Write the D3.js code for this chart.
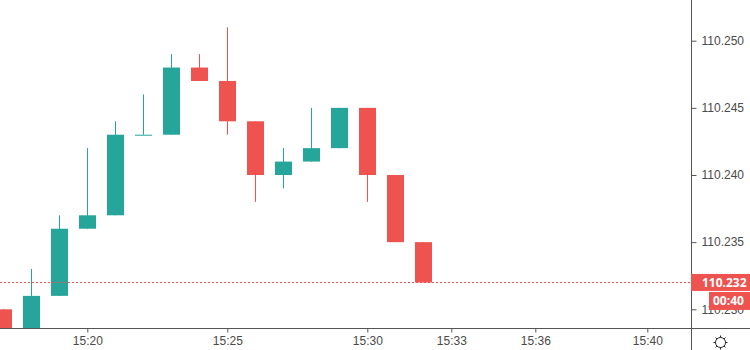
<!DOCTYPE html>
<meta charset="utf-8">
<style>
body { margin: 0; background: #fff; }
svg { display: block; font-family: "Open Sans", "DejaVu Sans", sans-serif; }
.axis text { fill: #4a4a4a; font-size: 12px; }
.axis path, .axis line { stroke: #555; }
</style>
<body>
<script src="https://d3js.org/d3.v7.min.js"></script>
<script>

// candle data, one per minute starting 15:17
var minutes = ["15:17","15:18","15:19","15:20","15:21","15:22","15:23","15:24",
               "15:25","15:26","15:27","15:28","15:29","15:30","15:31","15:32"];
var opens  = [110.230,110.227,110.231,110.236,110.237,110.243,110.243,110.248,
              110.247,110.244,110.240,110.241,110.242,110.245,110.240,110.235];
var highs  = [110.230,110.233,110.237,110.242,110.244,110.246,110.249,110.249,
              110.251,110.244,110.242,110.245,110.245,110.245,110.240,110.235];
var lows   = [110.226,110.226,110.231,110.236,110.237,110.243,110.243,110.247,
              110.243,110.238,110.239,110.241,110.242,110.238,110.235,110.232];
var closes = [110.227,110.231,110.236,110.237,110.243,110.243,110.248,110.247,
              110.244,110.240,110.241,110.242,110.245,110.240,110.235,110.232];

var timeTicks = ["15:20","15:25","15:30","15:33","15:36","15:40"];
var priceTicks = [110.230, 110.235, 110.240, 110.245, 110.250];
var lastPrice = 110.232;
var countdown = "00:40";

var W = 750, H = 350, plotW = 692, plotH = 328;
var up = "#26a69a", down = "#ef5350";

var parse = d3.timeParse("%H:%M");
var fmt = d3.timeFormat("%H:%M");

var x = d3.scaleTime()
    .domain([parse("15:17"), parse("15:40")])
    .range([3.3, 647.3]);
var y = d3.scaleLinear()
    .domain([110.230, 110.250])
    .range([309.3, 40.7]);

var data = minutes.map(function(m, i) {
  return {t: parse(m), o: opens[i], h: highs[i], l: lows[i], c: closes[i]};
});

var svg = d3.select("body").append("svg")
    .attr("width", W)
    .attr("height", H);

svg.append("clipPath").attr("id", "plot")
  .append("rect").attr("width", plotW).attr("height", plotH);

var g = svg.append("g").attr("clip-path", "url(#plot)");

// wicks
g.selectAll(".wick").data(data).enter().append("line")
    .attr("x1", function(d) { return Math.round(x(d.t)) + 0.5; })
    .attr("x2", function(d) { return Math.round(x(d.t)) + 0.5; })
    .attr("y1", function(d) { return y(d.h); })
    .attr("y2", function(d) { return y(d.l); })
    .attr("stroke", function(d) { return d.c >= d.o ? up : down; })
    .attr("stroke-width", 1);

// bodies
g.selectAll(".body").data(data).enter().append("rect")
    .attr("x", function(d) { return Math.round(x(d.t)) - 8; })
    .attr("width", 17)
    .attr("y", function(d) { return y(Math.max(d.o, d.c)); })
    .attr("height", function(d) { return Math.max(1, y(Math.min(d.o, d.c)) - y(Math.max(d.o, d.c))); })
    .attr("fill", function(d) { return d.c >= d.o ? up : down; });

// last price line
svg.append("line")
    .attr("x1", 0).attr("x2", plotW)
    .attr("y1", Math.round(y(lastPrice)) + 0.5)
    .attr("y2", Math.round(y(lastPrice)) + 0.5)
    .attr("stroke", down)
    .attr("stroke-dasharray", "2,2");

// bottom axis
var xAxis = svg.append("g")
    .attr("class", "axis")
    .attr("transform", "translate(0," + (plotH + 0.5) + ")")
    .call(d3.axisBottom(x)
      .tickValues(timeTicks.map(parse))
      .tickFormat(fmt)
      .tickSize(4)
      .tickPadding(4));
xAxis.select(".domain").remove();
svg.append("line")
    .attr("x1", 0).attr("x2", W)
    .attr("y1", plotH + 0.5).attr("y2", plotH + 0.5)
    .attr("stroke", "#555");

// right axis
var yAxis = svg.append("g")
    .attr("class", "axis")
    .attr("transform", "translate(" + (plotW - 0.5) + ",0)")
    .call(d3.axisRight(y)
      .tickValues(priceTicks)
      .tickFormat(d3.format(".3f"))
      .tickSize(5)
      .tickPadding(5));
yAxis.select(".domain").remove();
svg.append("line")
    .attr("x1", plotW - 0.5).attr("x2", plotW - 0.5)
    .attr("y1", 0).attr("y2", H)
    .attr("stroke", "#555");

// last price label
var ly = y(lastPrice);
svg.append("rect")
    .attr("x", plotW - 1).attr("y", ly - 8.5)
    .attr("width", W - plotW + 1).attr("height", 17)
    .attr("fill", down);
svg.append("text")
    .attr("x", 702).attr("y", ly + 4.5)
    .attr("fill", "#fff")
    .style("font-size", "12px")
    .style("font-weight", "bold")
    .text(d3.format(".3f")(lastPrice));
svg.append("rect")
    .attr("x", 709).attr("y", ly + 9.5)
    .attr("width", W - 709).attr("height", 18)
    .attr("fill", down);
svg.append("text")
    .attr("x", 713).attr("y", ly + 23)
    .attr("fill", "#fff")
    .style("font-size", "12px")
    .style("font-weight", "bold")
    .text(countdown);

// settings gear
var gear = svg.append("g")
    .attr("transform", "translate(720.5,342.5)")
    .attr("stroke", "#222")
    .attr("fill", "none");
gear.append("circle").attr("r", 5);
d3.range(8).forEach(function(i) {
  var a = i * Math.PI / 4;
  gear.append("line")
      .attr("x1", Math.cos(a) * 5).attr("y1", Math.sin(a) * 5)
      .attr("x2", Math.cos(a) * 7).attr("y2", Math.sin(a) * 7);
});

</script>
</body>
